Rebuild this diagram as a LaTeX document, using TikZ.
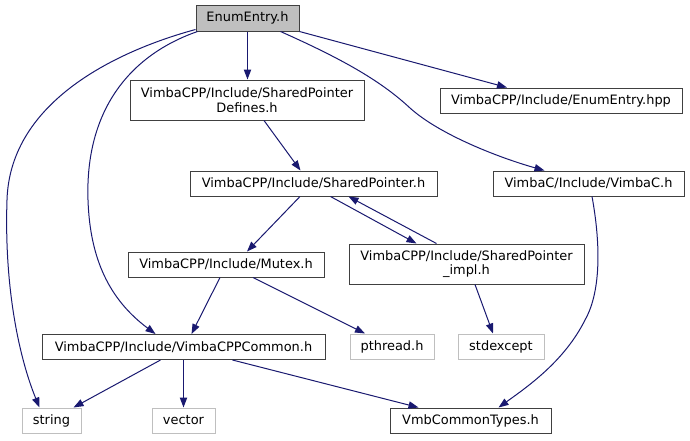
\documentclass[tikz,border=0pt]{standalone}
\usepackage{fontspec}
\setmainfont{DejaVu Sans}
\usetikzlibrary{arrows.meta,calc}
\definecolor{edgeblue}{HTML}{191970}
\definecolor{boxgray}{HTML}{BFBFBF}
\definecolor{boxdark}{HTML}{404040}
\begin{document}
\begin{tikzpicture}[x=0.75pt,y=-0.75pt,
  every node/.style={font=\fontsize{9.7pt}{11pt}\selectfont, inner sep=0pt, align=center},
  fbox/.style={draw=boxdark, line width=0.75pt, fill=white},
  gbox/.style={draw=boxgray, line width=0.75pt, fill=white},
  rootbox/.style={draw=boxdark, line width=0.75pt, fill=boxgray},
  edge/.style={draw=edgeblue, line width=0.75pt, -{Triangle[length=7.5pt,width=5.5pt]}}]
\useasboundingbox (0,0) rectangle (690,440);
\fill[white] (0,0) rectangle (690,440);

\node[rootbox, minimum width=77.25pt, minimum height=19.5pt] (root) at (247.5,18) {EnumEntry.h};
\node[fbox, minimum width=175.5pt, minimum height=30pt] (spd) at (247,100) {VimbaCPP/Include/SharedPointer\\Defines.h};
\node[fbox, minimum width=181.5pt, minimum height=18.75pt] (hpp) at (561,100.5) {VimbaCPP/Include/EnumEntry.hpp};
\node[fbox, minimum width=185.25pt, minimum height=18.75pt] (sp) at (313.5,183.5) {VimbaCPP/Include/SharedPointer.h};
\node[fbox, minimum width=143.25pt, minimum height=18.75pt] (vc) at (588.5,183.5) {VimbaC/Include/VimbaC.h};
\node[fbox, minimum width=147pt, minimum height=18.75pt] (mutex) at (226,264.5) {VimbaCPP/Include/Mutex.h};
\node[fbox, minimum width=176.25pt, minimum height=30pt] (impl) at (466.5,264) {VimbaCPP/Include/SharedPointer\\\_impl.h};
\node[fbox, minimum width=212.25pt, minimum height=18.75pt] (common) at (183.5,347) {VimbaCPP/Include/VimbaCPPCommon.h};
\node[gbox, minimum width=63pt, minimum height=18.75pt] (pthread) at (392,346.5) {pthread.h};
\node[gbox, minimum width=64.5pt, minimum height=18.75pt] (stdex) at (501,346.5) {stdexcept};
\node[gbox, minimum width=44.25pt, minimum height=18.75pt] (string) at (51.5,420.5) {string};
\node[gbox, minimum width=47.25pt, minimum height=18.75pt] (vector) at (183.5,420.5) {vector};
\node[fbox, minimum width=120.75pt, minimum height=18.75pt] (vmb) at (470.5,420.5) {VmbCommonTypes.h};

% EnumEntry.h edges
\draw[edge] ($(root.south west)+(0,-2)$) .. controls (120,50) and (10,100) .. (7,200)
   .. controls (4,290) and (20,360) .. ($(string.north)+(-12,0)$);
\draw[edge] ($(root.south west)+(2,0)$) .. controls (130,55) and (85,110) .. (88,200)
   .. controls (90,260) and (110,300) .. ($(common.north)+(-28,0)$);
\draw[edge] (root.south) -- (root.south |- spd.north);
\draw[edge] (root.south east) -- ($(hpp.north)+(-54,0)$);
\draw[edge] ($(root.south)+(33,0)$) .. controls (340,58) and (380,80) .. (410,108)
   .. controls (440,135) and (500,158) .. ($(vc.north)+(-44,0)$);

% second level
\draw[edge] ($(spd.south)+(17,0)$) -- ($(sp.north)+(-13,0)$);
\draw[edge] ($(sp.south)+(-13.5,0)$) -- ($(mutex.north)+(21,0)$);
\draw[edge] ($(sp.south)+(17,0)$) -- ($(impl.north)+(-50,0)$);
\draw[edge] ($(impl.north)+(-30,0)$) -- ($(sp.south)+(35,0)$);
\draw[edge] ($(mutex.south)+(-6,0)$) -- ($(common.north)+(8,0)$);
\draw[edge] ($(mutex.south)+(27,0)$) -- ($(pthread.north)+(-27,0)$);
\draw[edge] ($(impl.south)+(8.5,0)$) -- ($(stdex.north)+(-8,0)$);
\draw[edge] ($(vc.south)+(3.5,0)$) .. controls (600,240) and (602,290) .. (585,320)
   .. controls (565,360) and (530,385) .. ($(vmb.north)+(28,0)$);
\draw[edge] ($(common.south)+(-23,0)$) -- ($(string.north)+(22,0)$);
\draw[edge] (common.south) -- (vector.north);
\draw[edge] ($(common.south)+(49,0)$) -- ($(vmb.north)+(-52,0)$);
\end{tikzpicture}
\end{document}
